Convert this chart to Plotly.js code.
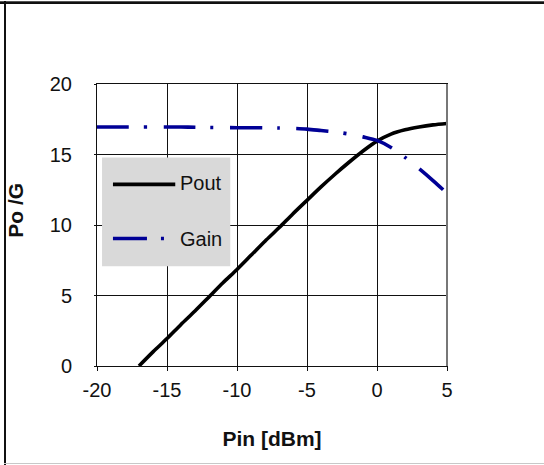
<!DOCTYPE html>
<html>
<head>
<meta charset="utf-8">
<script src="https://cdn.plot.ly/plotly-3.0.1.min.js"></script>
<style>
  html, body { margin: 0; padding: 0; background: #fff; }
  #wrap { position: relative; width: 544px; height: 465px; overflow: hidden; }
  #chart { position: absolute; left: 0; top: 0; width: 544px; height: 465px; }
  .b { position: absolute; }
</style>
</head>
<body>
<div id="wrap">
  <div id="chart"></div>
  <div class="b" style="left:0;top:1px;width:544px;height:1px;background:#555;"></div>
  <div class="b" style="left:0;top:2px;width:544px;height:2px;background:#111;"></div>
  <div class="b" style="left:4px;top:1px;width:2px;height:464px;background:#111;"></div>
  <div class="b" style="left:4px;top:463px;width:540px;height:1px;background:#c8c8c8;"></div>
</div>
<script>
// Data
var pinGain = [-20,-19,-18,-17,-16,-15,-14,-13,-12,-11,-10,-9,-8,-7,-6,-5,-4,-3,-2,-1,0,1,2,3,4,5];
var gainDb  = [16.95,16.95,16.95,16.95,16.95,16.95,16.95,16.93,16.92,16.91,16.9,16.9,16.89,16.88,16.85,16.8,16.7,16.6,16.45,16.25,16.0,15.5,14.8,14.0,13.15,12.25];
var pinPout = [-17,-16,-15,-14,-13,-12,-11,-10,-9,-8,-7,-6,-5,-4,-3,-2,-1,0,1,2,3,4,5];
var poutDbm = [0.0,1.0,1.95,2.95,3.9,4.9,5.9,6.85,7.85,8.85,9.8,10.8,11.75,12.7,13.6,14.45,15.25,15.95,16.45,16.75,16.95,17.1,17.2];
var seriesNames = ["Pout", "Gain"];
var xTicks = [-20,-15,-10,-5,0,5];
var yTicks = [0,5,10,15,20];

var FONT = "Liberation Sans, Arial, sans-serif";
var BLUE = "#000096";
var DASHDOT = "32px,15px,3px,16.5px";

var traces = [
  { x: pinPout, y: poutDbm, name: seriesNames[0], mode: "lines",
    line: { color: "#000", width: 3.6, shape: "spline", smoothing: 0.8 }, hoverinfo: "skip" },
  { x: pinGain, y: gainDb, name: seriesNames[1], mode: "lines",
    line: { color: BLUE, width: 3.6, dash: DASHDOT, shape: "spline", smoothing: 0.8 }, hoverinfo: "skip" }
];

var layout = {
  width: 544, height: 465,
  margin: { l: 97, r: 97, t: 83.5, b: 99, pad: 0 },
  paper_bgcolor: "#fff", plot_bgcolor: "#fff",
  showlegend: false,
  font: { family: FONT, size: 20, color: "#111" },
  xaxis: {
    range: [-20, 5], tickvals: xTicks, ticktext: xTicks.map(String),
    showgrid: true, gridcolor: "#111", gridwidth: 1, zeroline: false,
    showline: true, linecolor: "#111", linewidth: 1, mirror: true,
    ticks: "outside", ticklen: 4, tickcolor: "#111", ticklabelstandoff: 2,
    tickfont: { family: FONT, size: 20, color: "#111" },
    title: { text: "<b>Pin [dBm]</b>", font: { family: FONT, size: 21, color: "#111" }, standoff: 31 },
    fixedrange: true
  },
  yaxis: {
    range: [0, 20], tickvals: yTicks, ticktext: yTicks.map(String),
    showgrid: true, gridcolor: "#111", gridwidth: 1, zeroline: false,
    showline: true, linecolor: "#111", linewidth: 1, mirror: true,
    ticks: "outside", ticklen: 2, tickcolor: "#111", ticklabelstandoff: 18,
    tickfont: { family: FONT, size: 20, color: "#111" },
    fixedrange: true
  },
  shapes: [
    { type: "rect", xref: "x", yref: "y", x0: -19.64, x1: -10.48, y0: 7.08, y1: 14.78,
      fillcolor: "#d9d9d9", line: { width: 0 }, layer: "above" },
    { type: "line", xref: "x", yref: "y", x0: -18.86, x1: -14.41, y0: 12.88, y1: 12.88,
      line: { color: "#000", width: 3.6 }, layer: "above" },
    { type: "line", xref: "x", yref: "y", x0: -18.86, x1: -15.05, y0: 9.04, y1: 9.04,
      line: { color: BLUE, width: 3.6, dash: "34px,14px,3px,14px" }, layer: "above" },
    { type: "line", xref: "paper", yref: "paper", x0: 1, x1: 1, y0: 0, y1: 1,
      line: { color: "#777", width: 2 }, layer: "above" }
  ],
  annotations: [
    { xref: "x", yref: "y", x: -14.22, y: 12.95, text: seriesNames[0], showarrow: false,
      xanchor: "left", yanchor: "middle", font: { family: FONT, size: 20, color: "#111" } },
    { xref: "x", yref: "y", x: -14.22, y: 9.04, text: seriesNames[1], showarrow: false,
      xanchor: "left", yanchor: "middle", font: { family: FONT, size: 20, color: "#111" } },
    { xref: "paper", yref: "paper", x: -0.233, y: 0.552, text: "<b>Po /G</b>", showarrow: false,
      textangle: -90, xanchor: "center", yanchor: "middle", font: { family: FONT, size: 21, color: "#111" } }
  ]
};

Plotly.newPlot("chart", traces, layout, { staticPlot: true, displayModeBar: false });
</script>
</body>
</html>
